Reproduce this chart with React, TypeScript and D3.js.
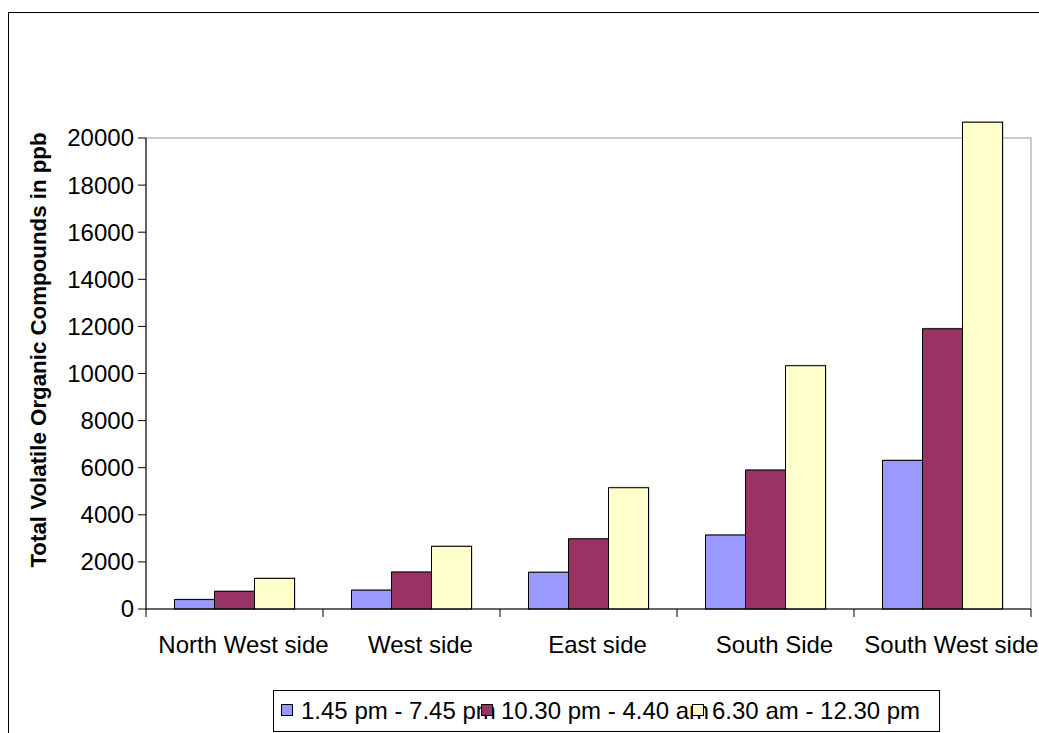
import React from "react";
import * as d3 from "d3";

const categories = ["North West side", "West side", "East side", "South Side", "South West side"];
const seriesNames = ["1.45 pm - 7.45 pm", "10.30 pm - 4.40 am", "6.30 am - 12.30 pm"];
const series1 = [400, 800, 1560, 3140, 6310];
const series2 = [750, 1570, 2980, 5900, 11900];
const series3 = [1300, 2660, 5150, 10330, 20670];
const seriesColors = ["#9999FF", "#993366", "#FFFFCC"];
const yTicks = [0, 2000, 4000, 6000, 8000, 10000, 12000, 14000, 16000, 18000, 20000];

const W = 1039;
const H = 733;
const plot = { left: 146, right: 1031, top: 138, bottom: 609 };
const FONT = "'Liberation Sans', Arial, sans-serif";
const FS = 24;

export default function App() {
  const allSeries = [series1, series2, series3];
  const y = d3.scaleLinear().domain([0, 20000]).range([plot.bottom, plot.top]);
  const x0 = d3.scaleBand<string>().domain(categories).range([plot.left, plot.right]).paddingInner(0).paddingOuter(0);
  const barGroupW = 120;
  const x1 = d3
    .scaleBand<number>()
    .domain([0, 1, 2])
    .range([0, barGroupW]);
  const groupOffset = (x0.bandwidth() - barGroupW) / 2;
  const boundaries = categories.map((c) => x0(c)!).concat([plot.right]);

  const legendX = [281, 481, 692];

  return (
    <svg width={W} height={H} style={{ position: "absolute", left: 0, top: 0 }} fontFamily={FONT}>
      <rect x={0} y={0} width={W} height={H} fill="#fff" />
      {/* outer chart border */}
      <rect x={8.5} y={12.5} width={W + 20} height={H + 20} fill="none" stroke="#000" strokeWidth={1} />
      {/* plot area border (gray) */}
      <rect
        x={plot.left}
        y={plot.top}
        width={plot.right - plot.left}
        height={plot.bottom - plot.top}
        fill="none"
        stroke="#999"
        strokeWidth={1}
      />
      {/* bars */}
      {categories.map((c, ci) => (
        <g key={c}>
          {allSeries.map((s, si) => {
            const bx = x0(c)! + groupOffset + x1(si)!;
            const by = y(s[ci]);
            return (
              <g key={si}>
                <rect
                  x={bx + 1}
                  y={by - 1}
                  width={x1.bandwidth()}
                  height={plot.bottom - by + 1}
                  fill="#888"
                  opacity={0.6}
                />
                <rect
                  x={bx}
                  y={by}
                  width={x1.bandwidth()}
                  height={plot.bottom - by}
                  fill={seriesColors[si]}
                  stroke="#000"
                  strokeWidth={1}
                />
              </g>
            );
          })}
        </g>
      ))}
      {/* y axis */}
      <line x1={plot.left} x2={plot.left} y1={plot.top} y2={plot.bottom} stroke="#000" />
      {yTicks.map((t) => (
        <g key={t}>
          <line x1={plot.left - 8} x2={plot.left} y1={y(t)} y2={y(t)} stroke="#000" />
          <text x={plot.left - 12} y={y(t)} dy="0.35em" textAnchor="end" fontSize={FS} fill="#000">
            {t}
          </text>
        </g>
      ))}
      {/* x axis */}
      <line x1={plot.left} x2={plot.right} y1={plot.bottom} y2={plot.bottom} stroke="#000" />
      {boundaries.map((bx, i) => (
        <line key={i} x1={bx} x2={bx} y1={plot.bottom} y2={plot.bottom + 8} stroke="#000" />
      ))}
      {categories.map((c) => (
        <text
          key={c}
          x={x0(c)! + x0.bandwidth() / 2 + 9}
          y={653}
          textAnchor="middle"
          fontSize={FS}
          fill="#000"
        >
          {c}
        </text>
      ))}
      {/* y axis title */}
      <text
        transform={`translate(46, 350) rotate(-90)`}
        textAnchor="middle"
        fontSize={22.3}
        fontWeight="bold"
        fill="#000"
      >
        Total Volatile Organic Compounds in ppb
      </text>
      {/* legend */}
      <rect x={273.5} y={690.5} width={666} height={41} fill="#fff" stroke="#000" />
      {seriesNames.map((n, i) => (
        <g key={n}>
          <rect x={legendX[i] + 0.5} y={704.5} width={11} height={11} fill={seriesColors[i]} stroke="#000" />
          <text x={legendX[i] + 20} y={719} fontSize={FS} fill="#000">
            {n}
          </text>
        </g>
      ))}
    </svg>
  );
}
